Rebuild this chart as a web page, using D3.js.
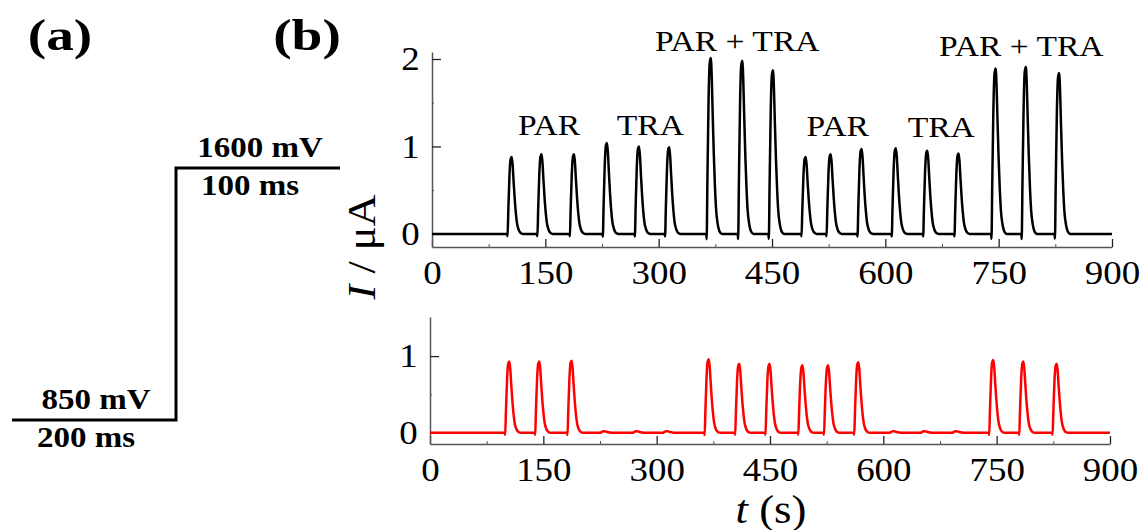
<!DOCTYPE html>
<html>
<head>
<meta charset="utf-8">
<script src="https://cdn.jsdelivr.net/npm/d3@7"></script>
<style>
  body { margin: 0; background: #fff; }
  svg { display: block; font-family: "Liberation Serif", "Times New Roman", serif; }
</style>
</head>
<body>
<svg id="chart" width="1145" height="530"></svg>
<script>

// Panel (a): potential step waveform
const stepLevels = [850, 1600];
const stepLabels = ["850 mV", "1600 mV"];
const stepDurations = ["200 ms", "100 ms"];

// Panel (b): peak times (s) and heights (uA)
const topPeakTimes = [105.5, 145, 188, 231.6, 274, 314, 369, 410.7, 451.3, 494.6, 527.7, 568.7, 614, 655.6, 697, 746, 786, 830];
const topPeakHeights = [0.88, 0.91, 0.91, 1.04, 1.0, 0.99, 2.01, 1.98, 1.87, 0.88, 0.91, 0.97, 0.98, 0.95, 0.92, 1.89, 1.91, 1.84];

const bottomPeakTimes = [105, 144.7, 187.5, 231, 274, 314, 369, 409.4, 449.5, 493, 527, 567, 614, 655, 697, 745.6, 785.4, 829.5];
const bottomPeakHeights = [0.93, 0.93, 0.94, 0.02, 0.02, 0.02, 0.96, 0.90, 0.90, 0.88, 0.88, 0.92, 0.02, 0.02, 0.02, 0.95, 0.93, 0.90];

// shape of one injection peak: seconds from apex, fraction of apex height
const profileOffsets = [-6, -5.5, -4.5, -3, -1.5, 0, 1.2, 2.5, 4, 5.5, 7, 9, 11, 13, 15];
const profileFractions = [0, -0.03, 0.3, 0.75, 0.97, 1, 0.9, 0.68, 0.45, 0.27, 0.14, 0.06, 0.02, 0.005, 0];

// annotations over the top trace
const annotLabels = ["PAR", "TRA", "PAR + TRA", "PAR", "TRA", "PAR + TRA"];
const annotTimes = [155, 289, 404, 537, 674, 780];
const annotLevels = [1.13, 1.13, 2.09, 1.12, 1.11, 2.03];

const xTicks = [0, 150, 300, 450, 600, 750, 900];
const xMinorTicks = [75, 225, 375, 525, 675, 825];
const topYTicks = [0, 1, 2];
const topYMinor = [0.5, 1.5];
const bottomYTicks = [0, 1];
const bottomYMinor = [0.5];

const svg = d3.select("#chart");
const SX = 1.12; // the figure is slightly stretched horizontally

function label(g, x, y, str, size, anchor, weight, sx) {
  return g.append("text")
    .attr("transform", `translate(${x},${y}) scale(${sx || SX},1)`)
    .attr("text-anchor", anchor || "middle")
    .attr("font-size", size)
    .attr("font-weight", weight || "normal")
    .attr("fill", "#000")
    .text(str);
}

// Panel letters
label(svg, 60, 50, "(a)", 44, "middle", "bold", 1.26);
label(svg, 307, 50, "(b)", 44, "middle", "bold", 1.26);

// Panel (a)
const segX = d3.scaleBand().domain(d3.range(stepLevels.length)).range([12, 340]);
const potY = d3.scaleLinear().domain([850, 1600]).range([420, 168]);

const stepPts = [];
stepLevels.forEach((v, i) => {
  stepPts.push([segX(i), potY(v)]);
  stepPts.push([segX(i) + segX.bandwidth(), potY(v)]);
});

svg.append("path")
  .attr("d", d3.line()(stepPts))
  .attr("fill", "none")
  .attr("stroke", "#000")
  .attr("stroke-width", 3);

stepLevels.forEach((v, i) => {
  const cx = segX(i) + segX.bandwidth() / 2;
  label(svg, cx + 2, potY(v) - 11, stepLabels[i], 30, "middle", "bold", 1.1);
  label(svg, cx - 8, potY(v) + 27, stepDurations[i], 30, "middle", "bold", 1.1);
});

// Panel (b)
function buildTrace(times, heights) {
  const peaks = d3.zip(times, heights).sort((a, b) => a[0] - b[0]);
  const pts = [{ t: 0, v: 0 }];
  peaks.forEach(([t, h]) => {
    profileOffsets.forEach((o, i) => pts.push({ t: t + o, v: h * profileFractions[i] }));
  });
  pts.push({ t: 900, v: 0 });
  return pts;
}

function drawPanel(opts) {
  const x = d3.scaleLinear().domain([0, 900]).range(opts.xRange);
  const y = d3.scaleLinear().domain(opts.yDomain).range(opts.yRange);
  const g = svg.append("g");

  // axes
  const xAxis = g.append("g")
    .attr("transform", `translate(0,${opts.yRange[0]})`)
    .attr("color", "#555")
    .call(d3.axisBottom(x).tickValues(xTicks).tickSizeInner(-8).tickSizeOuter(0).tickPadding(14));
  g.append("g")
    .attr("transform", `translate(0,${opts.yRange[0]})`)
    .attr("color", "#555")
    .call(d3.axisBottom(x).tickValues(xMinorTicks).tickSize(-3).tickFormat(""))
    .select(".domain").remove();

  const yAxis = g.append("g")
    .attr("transform", `translate(${opts.xRange[0]},0)`)
    .attr("color", "#555")
    .call(d3.axisLeft(y).tickValues(opts.yTicks).tickSizeInner(-9).tickSizeOuter(0).tickPadding(11).tickFormat(d3.format("d")));
  g.append("g")
    .attr("transform", `translate(${opts.xRange[0]},0)`)
    .attr("color", "#555")
    .call(d3.axisLeft(y).tickValues(opts.yMinor).tickSize(-2).tickFormat(""))
    .select(".domain").remove();

  [xAxis, yAxis].forEach(a => {
    a.select(".domain").attr("stroke-width", 1.5);
    a.selectAll(".tick line").attr("stroke", "#222").attr("stroke-width", 1.3);
    a.selectAll(".tick text")
      .attr("fill", "#000")
      .attr("font-size", 33)
      .attr("font-family", "Liberation Serif, serif")
      .attr("transform", `scale(${SX},1)`);
  });

  // trace
  g.append("path")
    .datum(buildTrace(opts.times, opts.heights))
    .attr("fill", "none")
    .attr("stroke", opts.color)
    .attr("stroke-width", 2.5)
    .attr("stroke-linejoin", "round")
    .attr("d", d3.line().curve(d3.curveMonotoneX).x(d => x(d.t)).y(d => y(d.v)));

  return { x, y, g };
}

const topPanel = drawPanel({
  xRange: [432, 1112], yDomain: [-0.15, 2.08], yRange: [247, 52],
  yTicks: topYTicks, yMinor: topYMinor,
  times: topPeakTimes, heights: topPeakHeights, color: "#000"
});

const bottomPanel = drawPanel({
  xRange: [430, 1110], yDomain: [-0.147, 1.51], yRange: [444, 317],
  yTicks: bottomYTicks, yMinor: bottomYMinor,
  times: bottomPeakTimes, heights: bottomPeakHeights, color: "#ff0000"
});

annotLabels.forEach((s, i) => {
  label(topPanel.g, topPanel.x(annotTimes[i]), topPanel.y(annotLevels[i]), s, 30);
});

// axis titles
const yTitle = svg.append("text")
  .attr("transform", "translate(375,247) rotate(-90) scale(1.08,1)")
  .attr("text-anchor", "middle")
  .attr("font-size", 41);
yTitle.append("tspan").attr("font-style", "italic").text("I");
yTitle.append("tspan").text(" / μA");

const xTitle = svg.append("text")
  .attr("transform", "translate(771,523) scale(1.12,1)")
  .attr("text-anchor", "middle")
  .attr("font-size", 40);
xTitle.append("tspan").attr("font-style", "italic").text("t");
xTitle.append("tspan").text(" (s)");

</script>
</body>
</html>
